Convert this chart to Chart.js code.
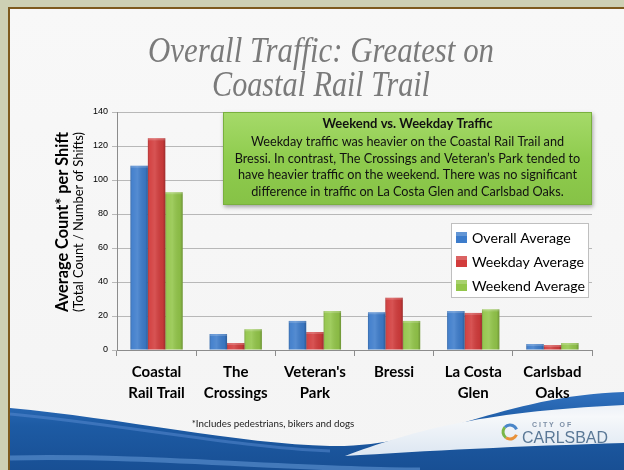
<!DOCTYPE html>
<html>
<head>
<meta charset="utf-8">
<script src="https://cdn.jsdelivr.net/npm/chart.js@4.4.1/dist/chart.umd.min.js"></script>
<style>
  html, body { margin: 0; padding: 0; background: #cdd0b4; }
  #myChart { display: block; }
</style>
</head>
<body>
<canvas id="myChart" width="624" height="470"></canvas>
<script>
// data
const categories = [['Coastal', 'Rail Trail'], ['The', 'Crossings'], ["Veteran's", 'Park'], ['Bressi'], ['La Costa', 'Glen'], ['Carlsbad', 'Oaks']];
const overallAvg = [108.4, 9.4, 17.1, 22.2, 22.9, 3.5];
const weekdayAvg = [124.5, 4.1, 10.6, 30.8, 21.8, 2.9];
const weekendAvg = [92.8, 12.2, 22.9, 17.1, 23.9, 4.1];
const seriesNames = ['Overall Average', 'Weekday Average', 'Weekend Average'];
const yTicks = [0, 20, 40, 60, 80, 100, 120, 140];

const titleLines = ['Overall Traffic: Greatest on', 'Coastal Rail Trail'];
const noteTitle = 'Weekend vs. Weekday Traffic';
const noteLines = [
  'Weekday traffic was heavier on the Coastal Rail Trail and',
  'Bressi. In contrast, The Crossings and Veteran\u2019s Park tended to',
  'have heavier traffic on the weekend. There was no significant',
  'difference in traffic on La Costa Glen and Carlsbad Oaks.'
];
const footnote = '*Includes pedestrians, bikers and dogs';

const barColors = ['#3d7ccb', '#d23c3c', '#93c64a'];

function fitSize(ctx, text, style, family, targetW) {
  ctx.font = style + ' 20px ' + family;
  return 20 * targetW / ctx.measureText(text).width;
}

// background, title, note box, legend etc
const slideDeco = {
  id: 'slideDeco',
  beforeDraw(chart) {
    const c = chart.ctx;
    const W = chart.width, H = chart.height;
    c.save();
    c.fillStyle = '#cdd0b4';
    c.fillRect(0, 0, W, H);
    c.fillStyle = '#7d5a1e';
    c.fillRect(8, 7, W - 8, 2);
    c.fillRect(8, 7, 2, H - 7);
    let g = c.createLinearGradient(0, 9, 0, H);
    g.addColorStop(0, '#f8f8f8');
    g.addColorStop(1, '#f4f4f4');
    c.fillStyle = g;
    c.fillRect(10, 9, W - 10, H - 9);

    // blue wave
    g = c.createLinearGradient(0, 395, 0, H);
    g.addColorStop(0, '#2f6fbc');
    g.addColorStop(0.4, '#1d5ba4');
    g.addColorStop(1, '#184f94');
    c.fillStyle = g;
    c.beginPath();
    c.moveTo(10, 408);
    c.bezierCurveTo(120, 418, 240, 444, 330, 446);
    c.bezierCurveTo(430, 448, 500, 396, 624, 392);
    c.lineTo(624, H);
    c.lineTo(10, H);
    c.closePath();
    c.fill();

    // lighter streaks
    c.strokeStyle = 'rgba(120,170,230,0.45)';
    c.lineWidth = 5;
    c.beginPath();
    c.moveTo(10, 458);
    c.bezierCurveTo(150, 455, 300, 470, 420, 470);
    c.stroke();
    c.strokeStyle = 'rgba(90,140,210,0.5)';
    c.lineWidth = 3;
    c.beginPath();
    c.moveTo(10, 414);
    c.bezierCurveTo(120, 424, 240, 448, 330, 451);
    c.stroke();

    // white swoosh on the right
    g = c.createLinearGradient(0, 400, 0, 455);
    g.addColorStop(0, '#e8eef6');
    g.addColorStop(0.3, '#f6f8fa');
    g.addColorStop(1, '#dde7f2');
    c.fillStyle = g;
    c.beginPath();
    c.moveTo(345, 456);
    c.bezierCurveTo(410, 432, 475, 412, 624, 405);
    c.lineTo(624, 443);
    c.bezierCurveTo(520, 446, 425, 451, 345, 456);
    c.closePath();
    c.fill();
    c.restore();
  },
  afterDatasetsDraw(chart) {
    const c = chart.ctx;
    c.save();
    chart.data.datasets.forEach((ds, i) => {
      chart.getDatasetMeta(i).data.forEach(bar => {
        const left = bar.x - bar.width / 2;
        const g = c.createLinearGradient(left, 0, left + bar.width, 0);
        g.addColorStop(0, 'rgba(0,0,0,0.18)');
        g.addColorStop(0.12, 'rgba(255,255,255,0.05)');
        g.addColorStop(0.4, 'rgba(255,255,255,0.12)');
        g.addColorStop(0.85, 'rgba(0,0,0,0.06)');
        g.addColorStop(1, 'rgba(0,0,0,0.25)');
        c.fillStyle = g;
        c.fillRect(left, bar.y, bar.width, bar.base - bar.y);
        c.fillStyle = 'rgba(255,255,255,0.18)';
        c.fillRect(left, bar.y, bar.width, 2);
      });
    });
    c.restore();
  },
  afterDraw(chart) {
    const c = chart.ctx;
    c.save();

    // title
    c.fillStyle = '#7a7a7a';
    c.textAlign = 'center';
    c.textBaseline = 'alphabetic';
    c.font = 'italic 35px "Liberation Serif", serif';
    c.fillText(titleLines[0], 321, 62, 346);
    c.fillText(titleLines[1], 321, 96, 218);

    // y axis title
    c.save();
    c.translate(63, 222);
    c.rotate(-Math.PI / 2);
    c.fillStyle = '#000';
    c.textBaseline = 'middle';
    let s = fitSize(c, 'Average Count* per Shift', 'bold', 'Lato', 180);
    c.font = 'bold ' + s + 'px Lato';
    c.fillText('Average Count* per Shift', 0, 0);
    s = fitSize(c, '(Total Count / Number of Shifts)', 'normal', 'Lato', 180);
    c.font = s + 'px Lato';
    c.fillText('(Total Count / Number of Shifts)', 0, 16);
    c.restore();

    // note box
    const bx = 223, by = 112, bw = 369, bh = 93;
    c.save();
    c.shadowColor = 'rgba(0,0,0,0.35)';
    c.shadowBlur = 4;
    c.shadowOffsetX = 1;
    c.shadowOffsetY = 2;
    let g = c.createLinearGradient(0, by, 0, by + bh);
    g.addColorStop(0, '#a6da6a');
    g.addColorStop(0.5, '#8fcc4e');
    g.addColorStop(1, '#86c246');
    c.fillStyle = g;
    c.fillRect(bx, by, bw, bh);
    c.restore();
    c.strokeStyle = '#79b03e';
    c.lineWidth = 1;
    c.strokeRect(bx + 0.5, by + 0.5, bw - 1, bh - 1);
    c.fillStyle = '#111';
    c.textBaseline = 'middle';
    c.font = 'bold 13px Lato';
    c.fillText(noteTitle, bx + bw / 2, 124, 190);
    s = fitSize(c, noteLines[1], 'normal', 'Lato', 346);
    c.font = s + 'px Lato';
    noteLines.forEach((t, i) => c.fillText(t, bx + bw / 2, 142 + i * 16.5));

    // legend
    const lx = 451, ly = 223, lw = 138, lh = 75;
    c.fillStyle = '#ffffff';
    c.fillRect(lx, ly, lw, lh);
    c.strokeStyle = '#bfbfbf';
    c.strokeRect(lx + 0.5, ly + 0.5, lw - 1, lh - 1);
    s = fitSize(c, 'Weekday Average', 'normal', 'Lato', 112);
    c.textAlign = 'left';
    chart.data.datasets.forEach((ds, i) => {
      const yy = 237 + i * 24;
      c.fillStyle = ds.backgroundColor;
      c.fillRect(456, yy - 5, 11, 11);
      c.fillStyle = 'rgba(255,255,255,0.2)';
      c.fillRect(456, yy - 5, 11, 4);
      c.fillStyle = '#000';
      c.font = s + 'px Lato';
      c.fillText(ds.label, 472, yy + 1);
    });

    // footnote
    c.textAlign = 'center';
    c.fillStyle = '#222';
    s = fitSize(c, footnote, 'normal', 'Lato', 163);
    c.font = s + 'px Lato';
    c.fillText(footnote, 273, 424);

    // city logo
    c.lineWidth = 3;
    [['#e8913a', 0.4, 2.2], ['#7ab648', 2.2, 3.9], ['#4a86c8', 3.9, 5.9]].forEach(a => {
      c.strokeStyle = a[0];
      c.beginPath();
      c.arc(510, 432, 7, a[1], a[2]);
      c.stroke();
    });
    c.fillStyle = '#7d8fa6';
    c.font = 'bold 7px "Liberation Sans"';
    c.textAlign = 'left';
    c.fillText('C I T Y   O F', 532, 425);
    c.fillStyle = '#5a7896';
    s = fitSize(c, 'CARLSBAD', 'normal', '"Liberation Sans Narrow", "Liberation Sans"', 86);
    c.font = s + 'px "Liberation Sans Narrow", "Liberation Sans"';
    c.fillText('CARLSBAD', 522, 439);
    c.restore();
  }
};

const ctx = document.getElementById('myChart').getContext('2d');

const myChart = new Chart(ctx, {
  type: 'bar',
  data: {
    labels: categories,
    datasets: [
      { label: seriesNames[0], data: overallAvg, backgroundColor: barColors[0] },
      { label: seriesNames[1], data: weekdayAvg, backgroundColor: barColors[1] },
      { label: seriesNames[2], data: weekendAvg, backgroundColor: barColors[2] }
    ]
  },
  options: {
    responsive: false,
    animation: false,
    layout: { padding: { left: 77, right: 32, top: 112, bottom: 60 } },
    datasets: { bar: { categoryPercentage: 0.66, barPercentage: 1.0, borderWidth: 0 } },
    plugins: { legend: { display: false }, title: { display: false }, tooltip: { enabled: false } },
    scales: {
      x: {
        afterFit: s => { s.height = 60; },
        grid: { offset: true, drawOnChartArea: false, tickLength: 6, color: '#8c8c8c' },
        border: { color: '#8c8c8c' },
        ticks: {
          padding: 6,
          color: '#000',
          font: { family: 'Lato', weight: 'bold', size: 15, lineHeight: 1.38 }
        }
      },
      y: {
        min: yTicks[0],
        max: yTicks[yTicks.length - 1],
        afterFit: s => { s.width = 40; },
        afterBuildTicks: s => { s.ticks = yTicks.map(v => ({ value: v })); },
        grid: { color: '#b8b8b8', tickLength: 5 },
        border: { color: '#8c8c8c' },
        ticks: {
          padding: 4,
          color: '#000',
          font: { family: 'Liberation Sans', size: 9 }
        }
      }
    }
  },
  plugins: [slideDeco]
});
</script>
</body>
</html>
